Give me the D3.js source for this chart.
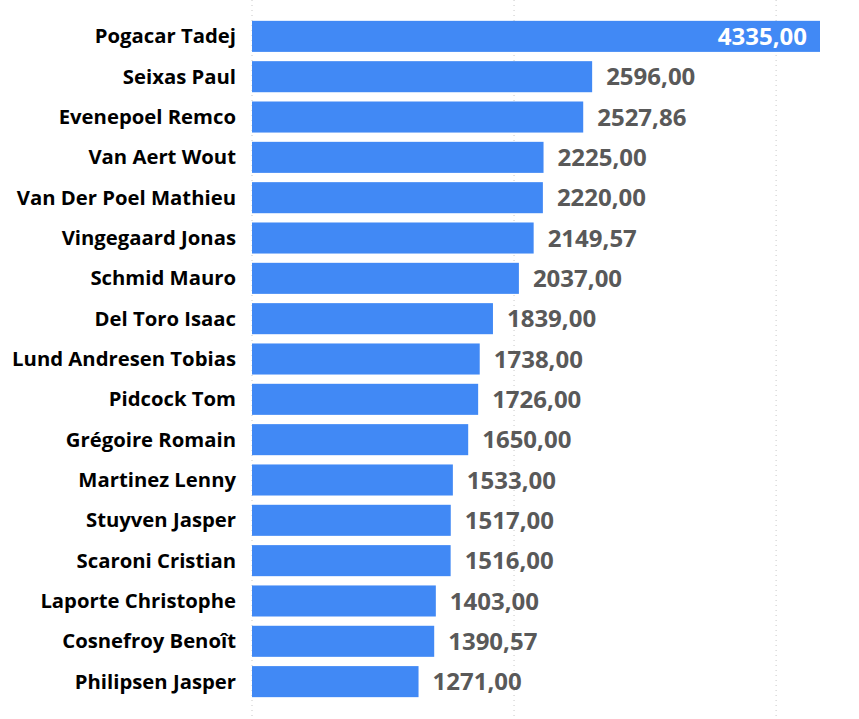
<!DOCTYPE html><html><head><meta charset="utf-8"><script src="https://cdn.jsdelivr.net/npm/d3@7"></script>
<style>body{margin:0;background:#fff}</style></head><body><svg id="c" width="859" height="719"></svg><script>
const riders=["Pogacar Tadej","Seixas Paul","Evenepoel Remco","Van Aert Wout","Van Der Poel Mathieu","Vingegaard Jonas","Schmid Mauro","Del Toro Isaac","Lund Andresen Tobias","Pidcock Tom","Grégoire Romain","Martinez Lenny","Stuyven Jasper","Scaroni Cristian","Laporte Christophe","Cosnefroy Benoît","Philipsen Jasper"];
const points=[4335,2596,2527.86,2225,2220,2149.57,2037,1839,1738,1726,1650,1533,1517,1516,1403,1390.57,1271];
const gridTicks=[0,2000,4000];
const svg=d3.select("#c");
const x=d3.scaleLinear().domain([0,4335]).range([252,820]);
const y=d3.scaleBand().domain(riders).range([16,702]).paddingInner(0.23).paddingOuter(0.12);
svg.selectAll(".g").data(gridTicks).enter().append("line").attr("x1",d=>x(d)).attr("x2",d=>x(d)).attr("y1",0).attr("y2",719).attr("stroke","#c8c8c8").attr("stroke-dasharray","1,4");
svg.selectAll(".b").data(riders).enter().append("rect").attr("x",x(0)).attr("y",d=>y(d)).attr("height",y.bandwidth()).attr("width",(d,i)=>x(points[i])-x(0)).attr("fill","#4189F5");
const fmt=v=>v.toFixed(2).replace(".",",");
svg.selectAll(".n").data(riders).enter().append("text").attr("x",236).attr("y",d=>y(d)+y.bandwidth()/2).attr("dy","0.35em").attr("text-anchor","end").attr("font-family","Open Sans, sans-serif").attr("font-weight","bold").attr("font-size",20.3).attr("fill","#000").text(d=>d);
svg.selectAll(".v").data(riders).enter().append("text").attr("x",(d,i)=>i==0?x(points[i])-13:x(points[i])+14).attr("y",d=>y(d)+y.bandwidth()/2).attr("dy","0.36em").attr("text-anchor",(d,i)=>i==0?"end":"start").attr("font-family","Open Sans, sans-serif").attr("font-weight","bold").attr("font-size",24).attr("fill",(d,i)=>i==0?"#fff":"#595959").text((d,i)=>fmt(points[i]));
</script></body></html>
